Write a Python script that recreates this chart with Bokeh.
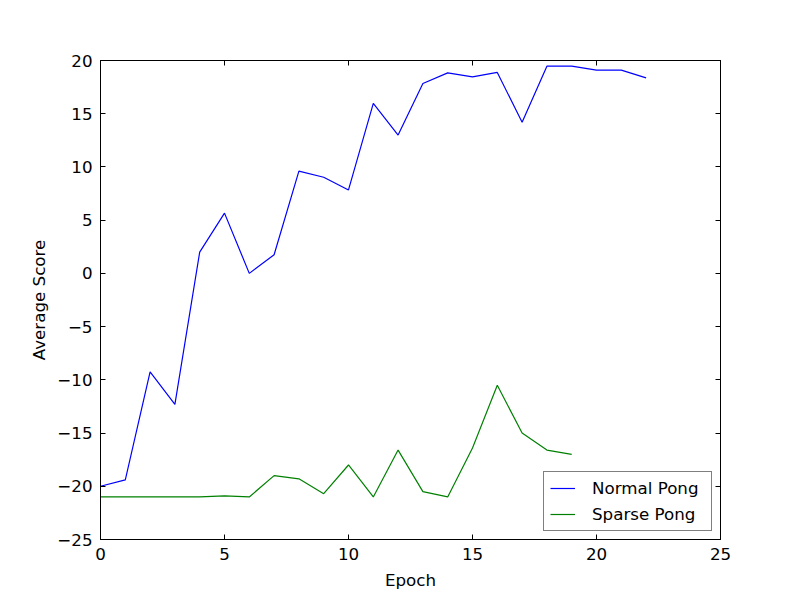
from bokeh.plotting import figure
from bokeh.models import Range1d, LinearAxis, FixedTicker, Legend, LegendItem, CustomJSTickFormatter
from bokeh.embed import file_html
from bokeh.resources import INLINE

epochs_normal = list(range(23))
normal_pong = [-20.0, -19.4, -9.25, -12.3, 2.0, 5.66, 0.0, 1.75, 9.6, 9.03, 7.84,
               15.97, 13.0, 17.84, 18.84, 18.47, 18.88, 14.19, 19.47, 19.47, 19.1,
               19.1, 18.37]
epochs_sparse = list(range(20))
sparse_pong = [-21.0, -21.0, -21.0, -21.0, -21.0, -20.9, -21.0, -19.0, -19.3, -20.7,
               -18.0, -21.0, -16.6, -20.5, -21.0, -16.4, -10.5, -15.0, -16.6, -17.0]

x_ticks = [0, 5, 10, 15, 20, 25]
y_ticks = [-25, -20, -15, -10, -5, 0, 5, 10, 15, 20]

FONT = "DejaVu Sans"
FS = "16.7px"

p = figure(width=792, height=592, output_backend="svg", toolbar_location=None,
           x_range=Range1d(0, 25), y_range=Range1d(-25, 20),
           min_border_left=100, min_border_right=72, min_border_top=60,
           min_border_bottom=52, x_axis_label="Epoch", y_axis_label="Average Score")
p.background_fill_color = "white"
p.border_fill_color = "white"
p.outline_line_color = "black"
p.outline_line_width = 1
p.xgrid.visible = False
p.ygrid.visible = False

bottom = p.below[0]
left = p.left[0]

overrides_y = {v: (("\u2212" + str(abs(v))) if v < 0 else str(v)) for v in y_ticks}

bottom.ticker = FixedTicker(ticks=x_ticks)
left.ticker = FixedTicker(ticks=y_ticks)
left.major_label_overrides = overrides_y

blank = CustomJSTickFormatter(code="return ''")
top = LinearAxis(ticker=FixedTicker(ticks=x_ticks), formatter=blank)
right = LinearAxis(ticker=FixedTicker(ticks=y_ticks), formatter=blank)
p.add_layout(top, "above")
p.add_layout(right, "right")

for ax in [bottom, left, top, right]:
    ax.major_tick_in = 5
    ax.major_tick_out = 0
    ax.minor_tick_in = 0
    ax.minor_tick_out = 0
    ax.axis_line_color = "black"
    ax.major_tick_line_color = "black"
    ax.major_label_text_font = FONT
    ax.major_label_text_font_size = FS
    ax.major_label_text_color = "black"
    ax.axis_label_text_font = FONT
    ax.axis_label_text_font_size = FS
    ax.axis_label_text_font_style = "normal"
    ax.axis_label_text_color = "black"
    ax.major_label_standoff = 8

for ax in [top, right]:
    ax.major_label_standoff = 0

bottom.axis_label_standoff = 7
left.axis_label_standoff = 5

r1 = p.line(epochs_normal, normal_pong, line_color="#0000ff", line_width=1.2)
r2 = p.line(epochs_sparse, sparse_pong, line_color="#008000", line_width=1.2)

legend = Legend(items=[LegendItem(label="Normal Pong", renderers=[r1]),
                       LegendItem(label="Sparse Pong", renderers=[r2])],
                location="bottom_right")
legend.margin = 8
legend.border_line_color = "black"
legend.border_line_width = 1
legend.background_fill_color = "white"
legend.background_fill_alpha = 1
legend.label_text_font = FONT
legend.label_text_font_size = FS
legend.label_text_color = "black"
legend.glyph_width = 25
legend.glyph_height = 18
legend.label_height = 18
legend.label_width = 113
legend.label_standoff = 17
legend.spacing = 6
legend.padding = 6
p.add_layout(legend, "center")

open("out.html", "w").write(file_html(p, INLINE))
